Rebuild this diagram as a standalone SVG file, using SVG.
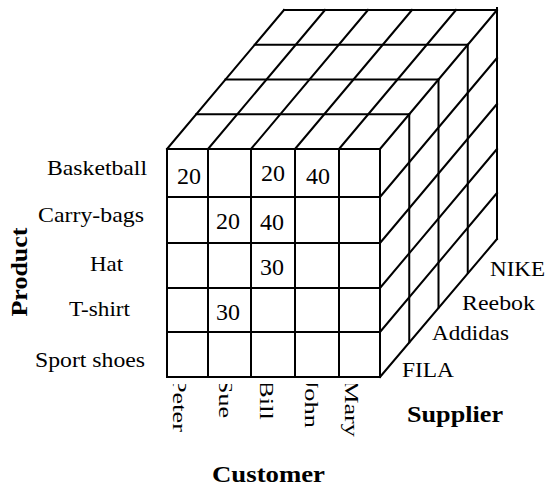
<svg xmlns="http://www.w3.org/2000/svg" width="547" height="486" viewBox="0 0 547 486">
<style>
.g{stroke:#000;stroke-width:2;fill:none;stroke-linecap:square}
text{font-family:"Liberation Serif",serif;fill:#000}
.t{font-size:22px}
.n{font-size:24px}
.c{font-size:18px}
.b{font-size:24px;font-weight:bold}
</style>
<defs>
<clipPath id="cl"><rect x="150" y="384" width="240" height="70"/></clipPath>
</defs>
<rect width="547" height="486" fill="#fff"/>
<g id="connectors" class="g">
<path d="M167,149H380M167,197H380M167,243H380M167,288H380M167,332H380M167,377H380"/>
<path d="M167,149V377M208,149V377M251,149V377M295,149V377M339,149V377M380,149V377"/>
<path d="M196.25,114.25H409.25M225.5,79.5H438.5M254.75,44.75H467.75M284,10H497"/>
<path d="M167,149L284,10M208,149L325,10M251,149L368,10M295,149L412,10M339,149L456,10M380,149L497,10"/>
<path d="M409.25,114.25V342.25M438.5,79.5V307.5M467.75,44.75V272.75M497,8V239"/>
<path d="M380,197L497,58M380,243L497,104M380,288L497,149M380,332L497,193M380,377L497,239"/>
</g>
<g id="cells">
<text class="n" x="177" y="184">20</text>
<text class="n" x="261" y="181">20</text>
<text class="n" x="306" y="184">40</text>
<text class="n" x="216" y="229">20</text>
<text class="n" x="260" y="230">40</text>
<text class="n" x="260" y="275">30</text>
<text class="n" x="216" y="320">30</text>
</g>
<g id="products">
<text class="t" x="47" y="175" textLength="100" lengthAdjust="spacingAndGlyphs">Basketball</text>
<text class="t" x="38" y="222" textLength="106" lengthAdjust="spacingAndGlyphs">Carry-bags</text>
<text class="t" x="90" y="271" textLength="33" lengthAdjust="spacingAndGlyphs">Hat</text>
<text class="t" x="69" y="316" textLength="61" lengthAdjust="spacingAndGlyphs">T-shirt</text>
<text class="t" x="35" y="367" textLength="110" lengthAdjust="spacingAndGlyphs">Sport shoes</text>
</g>
<g id="product-axis">
<text class="b" transform="translate(27,272) rotate(-90)" text-anchor="middle" textLength="89" lengthAdjust="spacingAndGlyphs">Product</text>
</g>
<g id="suppliers">
<text class="t" x="490" y="276" textLength="55" lengthAdjust="spacingAndGlyphs">NIKE</text>
<text class="t" x="462" y="310" textLength="73" lengthAdjust="spacingAndGlyphs">Reebok</text>
<text class="t" x="432" y="340" textLength="77" lengthAdjust="spacingAndGlyphs">Addidas</text>
<text class="t" x="402" y="377" textLength="52" lengthAdjust="spacingAndGlyphs">FILA</text>
</g>
<g id="supplier-axis">
<text class="b" x="407" y="422" textLength="96" lengthAdjust="spacingAndGlyphs">Supplier</text>
</g>
<g id="customers" clip-path="url(#cl)">
<text class="c" transform="translate(173,378) rotate(90)" textLength="54" lengthAdjust="spacingAndGlyphs">Peter</text>
<text class="c" transform="translate(219,379) rotate(90)" textLength="39" lengthAdjust="spacingAndGlyphs">Sue</text>
<text class="c" transform="translate(260,380) rotate(90)" textLength="40" lengthAdjust="spacingAndGlyphs">Bill</text>
<text class="c" transform="translate(305,378) rotate(90)" textLength="50" lengthAdjust="spacingAndGlyphs">John</text>
<text class="c" transform="translate(345,380) rotate(90)" textLength="57" lengthAdjust="spacingAndGlyphs">Mary</text>
</g>
<g id="customer-axis">
<text class="b" x="268.5" y="482" text-anchor="middle" textLength="113" lengthAdjust="spacingAndGlyphs">Customer</text>
</g>
</svg>
